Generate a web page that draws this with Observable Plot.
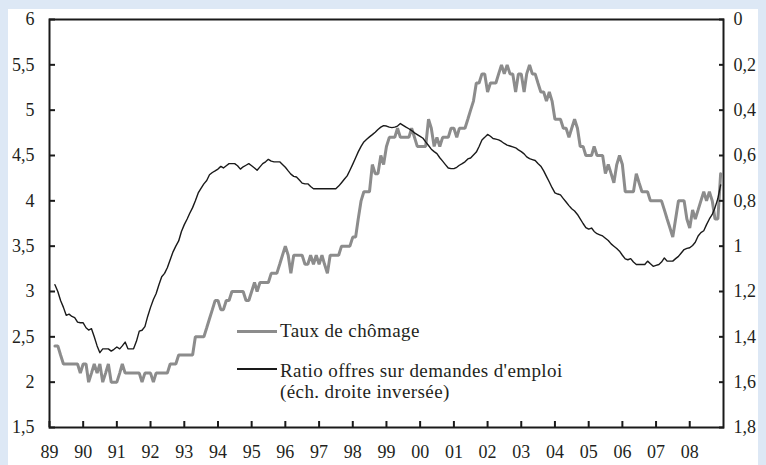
<!DOCTYPE html>
<html>
<head>
<meta charset="utf-8">
<script src="https://cdn.jsdelivr.net/npm/d3@7"></script>
<script src="https://cdn.jsdelivr.net/npm/@observablehq/plot@0.6"></script>
<style>
  html, body { margin: 0; padding: 0; background: #dde8f5; }
  #wrap { position: relative; width: 766px; height: 465px; overflow: hidden; }
  #panel { position: absolute; left: 8px; top: 9px; width: 750px; height: 456px; background: #ffffff; }
  #chart { position: absolute; left: 0; top: 0; }
  .lg { position: absolute; font-family: "Liberation Serif", "Times New Roman", Times, "DejaVu Serif", serif; font-size: 19px; line-height: 21px; color: #231f20; letter-spacing: 0.4px; white-space: nowrap; }
  .sw { position: absolute; }
  #chart svg text { font-family: "Liberation Serif", "Times New Roman", Times, "DejaVu Serif", serif; }
</style>
</head>
<body>
<div id="wrap">
  <div id="panel"></div>
  <div id="chart"></div>
  <div class="sw" style="left:237px;top:330px;width:40px;height:3px;background:#8c8c8c"></div>
  <div class="lg" id="lg1" style="left:280px;top:320px"></div>
  <div class="sw" style="left:237px;top:367.5px;width:40px;height:2px;background:#1a1a1a"></div>
  <div class="lg" id="lg2" style="left:280px;top:360px"></div>
</div>
<script>
// ---- Data (monthly, from March 1989 to December 2008) ----
const startYear = 1989;
const startMonth = 2; // March (0-based)

// Taux de chômage (%), left scale
const unemployment = [
  2.4, 2.4, 2.3, 2.2, 2.2, 2.2, 2.2, 2.2, 2.2, 2.1,                 // 1989 (Mar-Dec)
  2.2, 2.2, 2.0, 2.1, 2.2, 2.1, 2.2, 2.0, 2.1, 2.2, 2.0, 2.0,       // 1990
  2.0, 2.1, 2.2, 2.1, 2.1, 2.1, 2.1, 2.1, 2.1, 2.0, 2.1, 2.1,       // 1991
  2.1, 2.0, 2.1, 2.1, 2.1, 2.1, 2.1, 2.2, 2.2, 2.2, 2.3, 2.3,       // 1992
  2.3, 2.3, 2.3, 2.3, 2.5, 2.5, 2.5, 2.5, 2.6, 2.7, 2.8, 2.9,       // 1993
  2.9, 2.8, 2.8, 2.9, 2.9, 3.0, 3.0, 3.0, 3.0, 3.0, 2.9, 2.9,       // 1994
  3.0, 3.1, 3.0, 3.1, 3.1, 3.1, 3.1, 3.2, 3.2, 3.2, 3.3, 3.4,       // 1995
  3.5, 3.4, 3.2, 3.4, 3.4, 3.4, 3.4, 3.3, 3.3, 3.4, 3.3, 3.4,       // 1996
  3.3, 3.4, 3.3, 3.2, 3.4, 3.4, 3.4, 3.4, 3.5, 3.5, 3.5, 3.5,       // 1997
  3.6, 3.6, 3.8, 4.0, 4.1, 4.1, 4.1, 4.4, 4.3, 4.3, 4.5, 4.4,       // 1998
  4.6, 4.7, 4.7, 4.7, 4.8, 4.7, 4.7, 4.7, 4.7, 4.8, 4.7, 4.6,       // 1999
  4.6, 4.6, 4.6, 4.9, 4.8, 4.6, 4.7, 4.6, 4.7, 4.7, 4.7, 4.8,       // 2000
  4.8, 4.7, 4.8, 4.8, 4.8, 4.9, 5.0, 5.1, 5.3, 5.3, 5.4, 5.4,       // 2001
  5.2, 5.3, 5.3, 5.3, 5.4, 5.5, 5.4, 5.5, 5.4, 5.4, 5.2, 5.4,       // 2002
  5.4, 5.2, 5.4, 5.5, 5.4, 5.4, 5.3, 5.2, 5.2, 5.1, 5.2, 5.1,       // 2003
  4.9, 4.9, 4.9, 4.8, 4.8, 4.7, 4.8, 4.9, 4.8, 4.6, 4.6, 4.5,       // 2004
  4.5, 4.5, 4.6, 4.5, 4.5, 4.5, 4.3, 4.4, 4.3, 4.2, 4.4, 4.5,       // 2005
  4.4, 4.1, 4.1, 4.1, 4.1, 4.3, 4.2, 4.1, 4.1, 4.1, 4.0, 4.0,       // 2006
  4.0, 4.0, 4.0, 3.9, 3.8, 3.7, 3.6, 3.8, 4.0, 4.0, 4.0, 3.8,       // 2007
  3.7, 3.9, 3.8, 3.9, 4.0, 4.1, 4.0, 4.1, 4.0, 3.8, 3.8, 4.3        // 2008
];

// Ratio offres sur demandes d'emploi, right scale (inverted)
const ratio = [
  1.17, 1.20, 1.24, 1.27, 1.305, 1.30, 1.31, 1.315, 1.335, 1.338,                 // 1989
  1.338, 1.36, 1.37, 1.364, 1.40, 1.44, 1.47, 1.453, 1.453, 1.453, 1.463, 1.455,  // 1990
  1.445, 1.453, 1.44, 1.423, 1.453, 1.453, 1.453, 1.42, 1.375, 1.371, 1.355, 1.31,// 1991
  1.27, 1.235, 1.21, 1.17, 1.135, 1.12, 1.095, 1.06, 1.025, 1.00, 0.977, 0.935,   // 1992
  0.905, 0.88, 0.855, 0.83, 0.80, 0.765, 0.745, 0.725, 0.71, 0.685, 0.675, 0.668, // 1993
  0.66, 0.648, 0.655, 0.645, 0.636, 0.636, 0.636, 0.645, 0.66, 0.65, 0.643, 0.636,// 1994
  0.645, 0.655, 0.665, 0.65, 0.636, 0.628, 0.617, 0.625, 0.628, 0.628, 0.628, 0.64,// 1995
  0.652, 0.668, 0.682, 0.692, 0.695, 0.708, 0.722, 0.725, 0.725, 0.737, 0.747, 0.747,// 1996
  0.747, 0.747, 0.747, 0.747, 0.747, 0.747, 0.747, 0.735, 0.72, 0.705, 0.69, 0.665,// 1997
  0.638, 0.61, 0.584, 0.56, 0.54, 0.528, 0.518, 0.508, 0.497, 0.485, 0.475, 0.468,// 1998
  0.47, 0.475, 0.477, 0.475, 0.47, 0.459, 0.467, 0.475, 0.482, 0.49, 0.5, 0.508,  // 1999
  0.516, 0.524, 0.54, 0.556, 0.572, 0.583, 0.592, 0.61, 0.625, 0.64, 0.655, 0.658,// 2000
  0.658, 0.652, 0.643, 0.636, 0.628, 0.615, 0.611, 0.598, 0.585, 0.56, 0.532, 0.52,// 2001
  0.507, 0.515, 0.525, 0.528, 0.531, 0.538, 0.547, 0.554, 0.558, 0.562, 0.566, 0.575,// 2002
  0.583, 0.593, 0.606, 0.614, 0.618, 0.622, 0.635, 0.647, 0.668, 0.692, 0.717, 0.742,// 2003
  0.765, 0.77, 0.774, 0.79, 0.805, 0.821, 0.835, 0.845, 0.86, 0.88, 0.9, 0.918,   // 2004
  0.925, 0.92, 0.935, 0.945, 0.95, 0.955, 0.965, 0.975, 0.99, 1.0, 1.01, 1.022,   // 2005
  1.04, 1.056, 1.06, 1.055, 1.07, 1.081, 1.081, 1.081, 1.081, 1.066, 1.078, 1.089,// 2006
  1.085, 1.081, 1.07, 1.052, 1.066, 1.066, 1.066, 1.055, 1.045, 1.03, 1.015, 1.01,// 2007
  1.007, 0.997, 0.983, 0.955, 0.94, 0.932, 0.905, 0.88, 0.86, 0.83, 0.79, 0.73    // 2008
];

const yearLabels = ["89","90","91","92","93","94","95","96","97","98","99","00","01","02","03","04","05","06","07","08"];
const leftTicks = [1.5, 2, 2.5, 3, 3.5, 4, 4.5, 5, 5.5, 6];
const rightTicks = [0, 0.2, 0.4, 0.6, 0.8, 1, 1.2, 1.4, 1.6, 1.8];
const legendLabels = ["Taux de chômage", "Ratio offres sur demandes d'emploi", "(éch. droite inversée)"];

// ---- Build ----
const leftDomain = [1.5, 6];
const rightDomain = [0, 1.8];
const toLeft = r => leftDomain[1] - (r - rightDomain[0]) / (rightDomain[1] - rightDomain[0]) * (leftDomain[1] - leftDomain[0]);
const fromLeft = v => rightDomain[0] + (leftDomain[1] - v) / (leftDomain[1] - leftDomain[0]) * (rightDomain[1] - rightDomain[0]);
const fr = v => String(Math.round(v * 10) / 10).replace(".", ",");

const rows = unemployment.map((u, i) => ({
  date: new Date(Date.UTC(startYear, startMonth + i, 1)),
  u,
  r: ratio[i]
}));
const yearDates = yearLabels.map((_, i) => new Date(Date.UTC(startYear + i, 0, 1)));

const serif = "'Liberation Serif', 'Times New Roman', Times, 'DejaVu Serif', serif";
const svg = Plot.plot({
  width: 766,
  height: 465,
  marginLeft: 49,
  marginRight: 43,
  marginTop: 19,
  marginBottom: 38,
  style: {background: "transparent", fontFamily: serif, fontSize: "18px", color: "#231f20", overflow: "visible"},
  x: {type: "utc", domain: [new Date(Date.UTC(1989, 0, 1)), new Date(Date.UTC(2009, 0, 1))], axis: null, label: null},
  y: {domain: leftDomain, axis: null, label: null},
  marks: [
    Plot.line(rows, {x: "date", y: "u", stroke: "#8c8c8c", strokeWidth: 3, strokeLinejoin: "miter"}),
    Plot.line(rows, {x: "date", y: d => toLeft(d.r), stroke: "#1a1a1a", strokeWidth: 1.4}),
    Plot.axisY(leftTicks, {anchor: "left", tickSize: -6, tickPadding: 21, strokeWidth: 2, stroke: "#1a1a1a", tickFormat: fr, label: null, fontFamily: serif, fontSize: 18}),
    Plot.axisY(rightTicks.map(toLeft), {anchor: "right", tickSize: -5, tickPadding: 15, strokeWidth: 2, stroke: "#1a1a1a", tickFormat: d => fr(fromLeft(d)), textAnchor: "start", label: null, fontFamily: serif, fontSize: 18}),
    Plot.axisX(yearDates, {anchor: "bottom", tickSize: -6, tickPadding: 24, strokeWidth: 2, stroke: "#1a1a1a", tickFormat: d => yearLabels[d.getUTCFullYear() - startYear], label: null, fontFamily: serif, fontSize: 18}),
    Plot.frame({stroke: "#1a1a1a", strokeWidth: 2})
  ]
});
document.getElementById("chart").appendChild(svg);
document.getElementById("lg1").textContent = legendLabels[0];
const l2a = document.createElement("div"); l2a.textContent = legendLabels[1];
const l2b = document.createElement("div"); l2b.textContent = legendLabels[2];
document.getElementById("lg2").append(l2a, l2b);
</script>
</body>
</html>
